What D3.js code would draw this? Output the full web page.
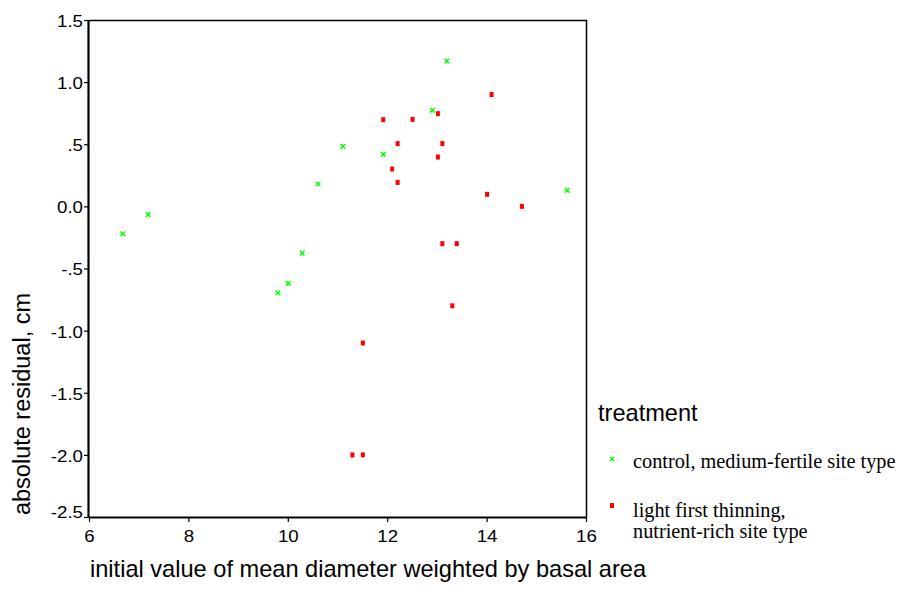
<!DOCTYPE html>
<html><head><meta charset="utf-8">
<script src="https://cdn.jsdelivr.net/npm/d3@7"></script>
<style>body{margin:0;background:#fff}</style>
</head><body>
<svg id="c" width="903" height="610"></svg>
<script>
const controlX = [6.68, 7.19, 9.80, 10.01, 10.29, 10.61, 11.11, 11.92, 12.91, 13.20, 15.62];
const controlY = [-0.22, -0.067, -0.695, -0.62, -0.376, 0.18, 0.483, 0.418, 0.773, 1.17, 0.129];
const thinX = [11.92, 12.51, 13.02, 14.10, 12.21, 13.11, 13.02, 12.10, 12.21, 14.01, 14.71, 13.11, 13.40, 13.31, 11.51, 11.30, 11.51];
const thinY = [0.698, 0.70, 0.746, 0.90, 0.505, 0.505, 0.397, 0.30, 0.193, 0.097, 0.0, -0.30, -0.30, -0.80, -1.10, -2.0, -2.0];
const xTicks = [6, 8, 10, 12, 14, 16];
const yTicks = [1.5, 1.0, 0.5, 0.0, -0.5, -1.0, -1.5, -2.0, -2.5];
const yTickLabels = ["1.5", "1.0", ".5", "0.0", "-.5", "-1.0", "-1.5", "-2.0", "-2.5"];
const legendTitle = "treatment";
const legendLabels = [["control, medium-fertile site type"], ["light first thinning,", "nutrient-rich site type"]];

const svg = d3.select("#c");
const L = 89, R = 586, T = 20, B = 517;
const x = d3.scaleLinear().domain([6, 16]).range([L, R]);
const y = d3.scaleLinear().domain([-2.5, 1.5]).range([B, T]);
const sans = "'Liberation Sans', Arial, sans-serif";
const serif = "'Liberation Serif', 'Times New Roman', serif";
const stretch = 1.1;

// frame top/right
svg.append("line").attr("x1", L).attr("x2", R + 1).attr("y1", T + 0.5).attr("y2", T + 0.5).attr("stroke", "#000").attr("stroke-width", 1.5);
svg.append("line").attr("x1", R + 0.5).attr("x2", R + 0.5).attr("y1", T).attr("y2", B).attr("stroke", "#000").attr("stroke-width", 1.5);

const gx = svg.append("g").attr("transform", `translate(0,${B})`)
  .call(d3.axisBottom(x).tickValues(xTicks).tickSize(5).tickPadding(8).tickFormat(d3.format("d")));
const gy = svg.append("g").attr("transform", `translate(${L},0)`)
  .call(d3.axisLeft(y).tickValues(yTicks).tickSize(5).tickPadding(1).tickFormat((d, i) => yTickLabels[i]));
[gx, gy].forEach(g => {
  g.select(".domain").attr("stroke-width", 2.2).attr("stroke", "#000");
  g.selectAll(".tick line").attr("stroke", "#000").attr("stroke-width", 1.2);
  g.selectAll("text").attr("font-family", sans).attr("font-size", 17).attr("fill", "#000");
});
gx.select(".domain").attr("d", `M${L},0.5H${R}`);
gy.select(".domain").attr("d", `M-0.5,${T}V${B}`);
gx.selectAll(".tick text").each(function () {
  const t = d3.select(this);
  const yy = +t.attr("y");
  t.attr("y", null).attr("transform", `translate(0,${yy}) scale(${stretch},1)`);
});
gy.selectAll(".tick text").each(function (d) {
  const t = d3.select(this);
  const xx = +t.attr("x");
  const shift = d === -2.5 ? -6 : 0;
  t.attr("x", null).attr("dy", "0.38em").attr("transform", `translate(${xx},${shift}) scale(${stretch},1)`);
});

// marks
const cross = (g, cx, cy, s) => {
  g.append("path").attr("d", `M${cx - s},${cy - s}L${cx + s},${cy + s}M${cx - s},${cy + s}L${cx + s},${cy - s}`)
    .attr("stroke", "#00ff00").attr("stroke-width", 1.5).attr("fill", "none");
};
const gm = svg.append("g");
thinX.forEach((v, i) => {
  gm.append("rect").attr("x", x(v) - 2).attr("y", y(thinY[i]) - 2.5).attr("width", 4).attr("height", 5).attr("fill", "#ff0000");
});
controlX.forEach((v, i) => cross(gm, x(v), y(controlY[i]), 2.3));

// axis titles
svg.append("text").attr("x", 90).attr("y", 577).attr("font-family", sans).attr("font-size", 23.6).text("initial value of mean diameter weighted by basal area");
svg.append("text").attr("transform", "translate(30,404) rotate(-90)").attr("text-anchor", "middle")
  .attr("font-family", sans).attr("font-size", 23.5).text("absolute residual, cm");

// legend
svg.append("text").attr("x", 598).attr("y", 421).attr("font-family", sans).attr("font-size", 23.6).text(legendTitle);
cross(svg, 612, 459, 2);
svg.append("rect").attr("x", 610).attr("y", 503).attr("width", 4).attr("height", 5).attr("fill", "#ff0000");
const ly = [[468], [516.5, 538]];
legendLabels.forEach((lines, i) => lines.forEach((t, j) => {
  svg.append("text").attr("x", 633).attr("y", ly[i][j]).attr("font-family", serif).attr("font-size", 20.3).text(t);
}));
</script>
</body></html>
